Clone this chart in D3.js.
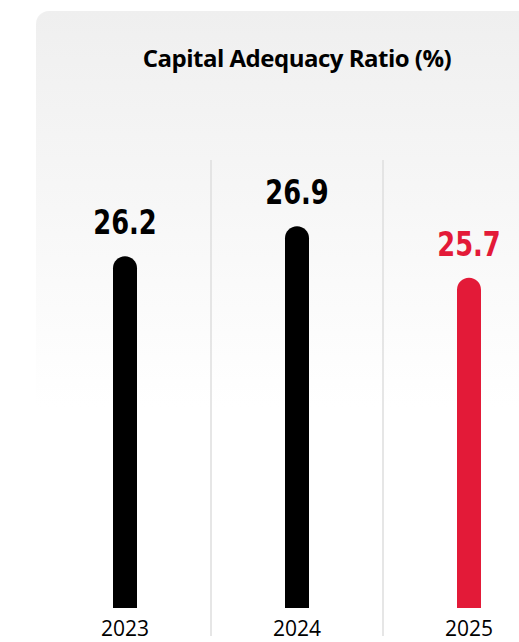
<!DOCTYPE html>
<html>
<head>
<meta charset="utf-8">
<script src="https://cdn.jsdelivr.net/npm/d3@7"></script>
<style>
  html, body { margin: 0; padding: 0; background: #fff; overflow: hidden; }
</style>
</head>
<body>
<div id="chart"></div>
<script>
const years = ["2023", "2024", "2025"];
const ratios = [26.2, 26.9, 25.7];
const barColors = ["#000000", "#000000", "#e31a38"];
const title = "Capital Adequacy Ratio (%)";

const width = 519,
    height = 642;

const svg = d3.select("#chart").append("svg")
    .attr("width", width)
    .attr("height", height);

// soft grey card fading to white
const defs = svg.append("defs");
const grad = defs.append("linearGradient")
    .attr("id", "bg")
    .attr("x1", 0).attr("y1", 0).attr("x2", 0).attr("y2", 1);
grad.append("stop").attr("offset", "0%").attr("stop-color", "#efefef");
grad.append("stop").attr("offset", "60%").attr("stop-color", "#ffffff");

svg.append("rect")
    .attr("x", 36)
    .attr("y", 11)
    .attr("rx", 13)
    .attr("width", 520)
    .attr("height", 660)
    .attr("fill", "url(#bg)");

svg.append("text")
    .attr("x", 297)
    .attr("y", 67)
    .attr("text-anchor", "middle")
    .style("font-family", "'Open Sans', sans-serif")
    .style("font-weight", 700)
    .style("font-size", "24px")
    .style("letter-spacing", "-0.5px")
    .text(title);

const x = d3.scaleBand()
    .domain(years)
    .range([39, 555])
    .padding(0);

const y = d3.scaleLinear()
    .domain([18, 27])
    .range([608, 222]);

const barW = 24;

function cx(year) { return x(year) + x.bandwidth() / 2; }

// vertical separators between years
svg.selectAll("line.sep")
    .data(years.slice(1))
  .enter().append("line")
    .attr("class", "sep")
    .attr("x1", function(d) { return x(d); })
    .attr("x2", function(d) { return x(d); })
    .attr("y1", 160)
    .attr("y2", 636)
    .attr("stroke", "#dedede")
    .attr("stroke-width", 1.5);

function barPath(d, i) {
  const c = cx(years[i]),
      r = barW / 2,
      top = y(d),
      bottom = y.range()[0];
  return "M" + (c - r) + "," + bottom +
      "V" + (top + r) +
      "A" + r + "," + r + " 0 0 1 " + (c + r) + "," + (top + r) +
      "V" + bottom + "Z";
}

svg.selectAll("path.bar")
    .data(ratios)
  .enter().append("path")
    .attr("class", "bar")
    .attr("d", barPath)
    .attr("fill", function(d, i) { return barColors[i]; });

// condensed bold value labels
svg.selectAll("text.val")
    .data(ratios)
  .enter().append("text")
    .attr("class", "val")
    .attr("transform", function(d, i) {
      return "translate(" + cx(years[i]) + "," + (y(d) - 22) + ") scale(0.78,1)";
    })
    .attr("text-anchor", "middle")
    .attr("fill", function(d, i) { return barColors[i]; })
    .style("font-family", "'DejaVu Sans', sans-serif")
    .style("font-weight", 700)
    .style("font-size", "33px")
    .text(function(d) { return d.toFixed(1); });

svg.selectAll("text.year")
    .data(years)
  .enter().append("text")
    .attr("class", "year")
    .attr("x", function(d) { return cx(d); })
    .attr("y", 636)
    .attr("text-anchor", "middle")
    .style("font-family", "'Open Sans', sans-serif")
    .style("font-size", "21px")
    .text(function(d) { return d; });
</script>
</body>
</html>
